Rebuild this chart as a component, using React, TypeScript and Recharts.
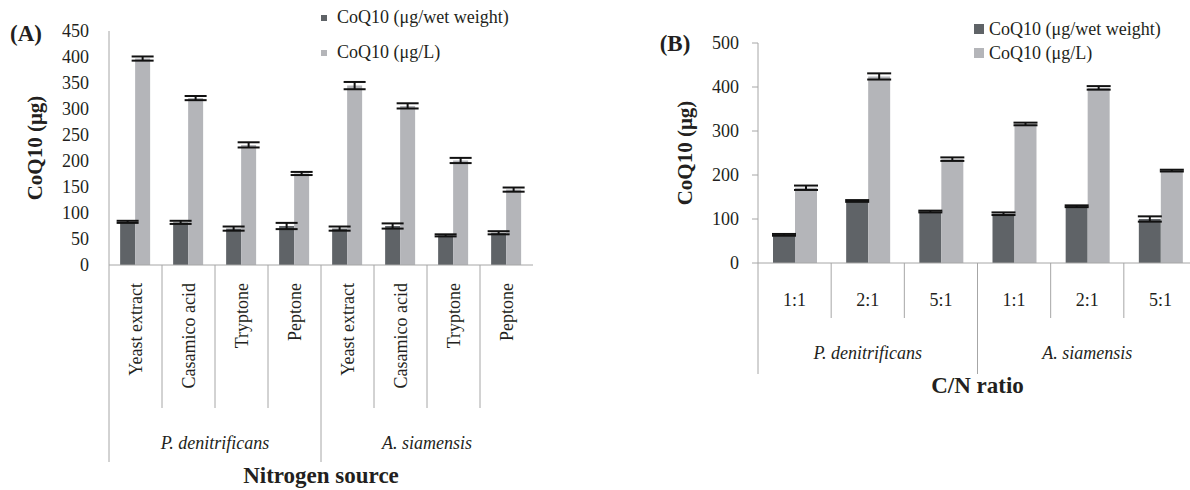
import React from 'react';
import { BarChart, Bar, XAxis, YAxis, ErrorBar, Legend, Label } from 'recharts';

// (A) nitrogen source
const nitrogenSources = ['Yeast extract', 'Casamico acid', 'Tryptone', 'Peptone', 'Yeast extract', 'Casamico acid', 'Tryptone', 'Peptone'];
const nitrogenStrains = ['P. denitrificans', 'P. denitrificans', 'P. denitrificans', 'P. denitrificans', 'A. siamensis', 'A. siamensis', 'A. siamensis', 'A. siamensis'];
const nWetWeight = [83, 82, 70, 75, 70, 75, 57, 62];
const nWetWeightErr = [2, 3, 4, 6, 4, 5, 2, 3];
const nPerLitre = [397, 321, 231, 176, 345, 306, 201, 145];
const nPerLitreErr = [4, 4, 5, 3, 7, 5, 5, 4];
const nTicks = [0, 50, 100, 150, 200, 250, 300, 350, 400, 450];

// (B) C/N ratio
const cnRatios = ['1:1', '2:1', '5:1', '1:1', '2:1', '5:1'];
const cnStrains = ['P. denitrificans', 'P. denitrificans', 'P. denitrificans', 'A. siamensis', 'A. siamensis', 'A. siamensis'];
const cnWetWeight = [64, 141, 117, 112, 129, 100];
const cnWetWeightErr = [2, 2, 2, 3, 2, 6];
const cnPerLitre = [171, 424, 236, 316, 398, 210];
const cnPerLitreErr = [5, 7, 4, 3, 4, 2];
const cnTicks = [0, 100, 200, 300, 400, 500];

const SERIES_WET = 'CoQ10 (μg/wet weight)';
const SERIES_L = 'CoQ10 (μg/L)';
const SERIES_ORDER = [SERIES_WET, SERIES_L];

const DARK = '#5f6367';
const LIGHT = '#b4b5b9';
const AXIS = '#a6a6a6';
const INK = '#231f20';
const FONT = '"Liberation Serif", "Times New Roman", serif';

const nitrogenData = nitrogenSources.map((s, i) => ({
  cat: s,
  group: nitrogenStrains[i],
  wet: nWetWeight[i],
  wetErr: nWetWeightErr[i],
  perL: nPerLitre[i],
  perLErr: nPerLitreErr[i],
}));

const cnData = cnRatios.map((r, i) => ({
  cat: r,
  group: cnStrains[i],
  wet: cnWetWeight[i],
  wetErr: cnWetWeightErr[i],
  perL: cnPerLitre[i],
  perLErr: cnPerLitreErr[i],
}));

// tick of the category axis: separator line at the left edge + label
const CategoryTick = (props: any) => {
  const { x, y, payload, lineLength, vertical, textOffset } = props;
  const half = payload?.offset ?? 0;
  const ty = y + textOffset;
  return (
    <g>
      <line x1={x - half} y1={y} x2={x - half} y2={y + lineLength} stroke={AXIS} strokeWidth={1} />
      {vertical ? (
        <text
          x={x}
          y={ty}
          transform={`rotate(-90 ${x} ${ty})`}
          textAnchor="end"
          dominantBaseline="central"
          fontFamily={FONT}
          fontSize={18}
          fill={INK}
        >
          {payload.value}
        </text>
      ) : (
        <text x={x} y={ty} textAnchor="middle" dominantBaseline="central" fontFamily={FONT} fontSize={18} fill={INK}>
          {payload.value}
        </text>
      )}
    </g>
  );
};

// tick of the strain axis: longer separator + italic name
const GroupTick = (props: any) => {
  const { x, y, payload, lineLength, textOffset } = props;
  const half = payload?.offset ?? 0;
  return (
    <g>
      <line x1={x - half} y1={y} x2={x - half} y2={y + lineLength} stroke={AXIS} strokeWidth={1} />
      <text
        x={x}
        y={y + textOffset}
        textAnchor="middle"
        dominantBaseline="central"
        fontFamily={FONT}
        fontStyle="italic"
        fontSize={18}
        fill={INK}
      >
        {payload.value}
      </text>
    </g>
  );
};

const makeLegend = (square: number, gap: number, rowHeight: number) => (props: any) => {
  const items = [...(props.payload || [])].sort(
    (a: any, b: any) => SERIES_ORDER.indexOf(a.value) - SERIES_ORDER.indexOf(b.value)
  );
  return (
    <div style={{ fontFamily: FONT, fontSize: 18, color: INK, whiteSpace: 'nowrap' }}>
      {items.map((p: any, i: number) => (
        <div key={i} style={{ display: 'flex', alignItems: 'center', height: rowHeight }}>
          <span style={{ display: 'inline-block', width: square, height: square, background: p.color, marginRight: gap }} />
          <span>{p.value}</span>
        </div>
      ))}
    </div>
  );
};

const NitrogenChart = () => (
  <BarChart
    width={590}
    height={490}
    data={nitrogenData}
    margin={{ top: 31, right: 57, bottom: 28, left: 0 }}
    barCategoryGap="21%"
    barGap={0}
  >
    <XAxis
      dataKey="cat"
      interval={0}
      height={143}
      tickSize={0}
      tickMargin={0}
      axisLine={{ stroke: AXIS }}
      tickLine={false}
      tick={<CategoryTick lineLength={143} vertical textOffset={18} />}
    />
    <XAxis
      xAxisId="group"
      dataKey="group"
      allowDuplicatedCategory={false}
      interval={0}
      height={54}
      tickSize={0}
      tickMargin={0}
      axisLine={false}
      tickLine={false}
      tick={<GroupTick lineLength={54} textOffset={35} />}
    >
      <Label
        content={(p: any) => (
          <text
            x={p.viewBox.x + p.viewBox.width / 2}
            y={p.viewBox.y + p.viewBox.height + 13}
            textAnchor="middle"
            dominantBaseline="central"
            fontFamily={FONT}
            fontWeight="bold"
            fontSize={23}
            fill={INK}
          >
            Nitrogen source
          </text>
        )}
      />
    </XAxis>
    <YAxis
      width={109}
      domain={[0, 450]}
      ticks={nTicks}
      interval={0}
      axisLine={{ stroke: AXIS }}
      tickLine={false}
      tickSize={6}
      tickMargin={14}
      tick={{ fontFamily: FONT, fontSize: 18, fill: INK }}
    >
      <Label
        content={(p: any) => (
          <text
            x={35}
            y={p.viewBox.y + p.viewBox.height / 2}
            transform={`rotate(-90 35 ${p.viewBox.y + p.viewBox.height / 2})`}
            textAnchor="middle"
            dominantBaseline="central"
            fontFamily={FONT}
            fontWeight="bold"
            fontSize={21}
            fill={INK}
          >
            CoQ10 (μg)
          </text>
        )}
      />
      <Label
        content={() => (
          <text x={26} y={33} textAnchor="middle" dominantBaseline="central" fontFamily={FONT} fontWeight="bold" fontSize={23} fill={INK}>
            (A)
          </text>
        )}
      />
    </YAxis>
    <Legend
      layout="vertical"
      align="center"
      verticalAlign="middle"
      wrapperStyle={{ left: 321, top: 0, width: 'auto' }}
      content={makeLegend(6, 10, 35)}
    />
    <Bar dataKey="wet" name={SERIES_WET} fill={DARK} isAnimationActive={false}>
      <ErrorBar dataKey="wetErr" direction="y" width={11} stroke="#111" strokeWidth={2} />
    </Bar>
    <Bar dataKey="perL" name={SERIES_L} fill={LIGHT} isAnimationActive={false}>
      <ErrorBar dataKey="perLErr" direction="y" width={11} stroke="#111" strokeWidth={2} />
    </Bar>
  </BarChart>
);

const RatioChart = () => (
  <BarChart
    width={600}
    height={490}
    data={cnData}
    margin={{ top: 43, right: 3, bottom: 116, left: 0 }}
    barCategoryGap="20.5%"
    barGap={0}
  >
    <XAxis
      dataKey="cat"
      interval={0}
      height={55}
      tickSize={0}
      tickMargin={0}
      axisLine={{ stroke: AXIS }}
      tickLine={false}
      tick={<CategoryTick lineLength={55} textOffset={37} />}
    />
    <XAxis
      xAxisId="group"
      dataKey="group"
      allowDuplicatedCategory={false}
      interval={0}
      height={56}
      tickSize={0}
      tickMargin={0}
      axisLine={false}
      tickLine={false}
      tick={<GroupTick lineLength={56} textOffset={35} />}
    >
      <Label
        content={(p: any) => (
          <text
            x={p.viewBox.x + p.viewBox.width / 2}
            y={p.viewBox.y + p.viewBox.height + 11}
            textAnchor="middle"
            dominantBaseline="central"
            fontFamily={FONT}
            fontWeight="bold"
            fontSize={23}
            fill={INK}
          >
            C/N ratio
          </text>
        )}
      />
    </XAxis>
    <YAxis
      width={158}
      domain={[0, 500]}
      ticks={cnTicks}
      interval={0}
      axisLine={{ stroke: AXIS }}
      tickLine={{ stroke: AXIS }}
      tickSize={6}
      tickMargin={13}
      tick={{ fontFamily: FONT, fontSize: 18, fill: INK }}
    >
      <Label
        content={(p: any) => (
          <text
            x={85}
            y={p.viewBox.y + p.viewBox.height / 2}
            transform={`rotate(-90 85 ${p.viewBox.y + p.viewBox.height / 2})`}
            textAnchor="middle"
            dominantBaseline="central"
            fontFamily={FONT}
            fontWeight="bold"
            fontSize={21}
            fill={INK}
          >
            CoQ10 (μg)
          </text>
        )}
      />
      <Label
        content={() => (
          <text x={75} y={43} textAnchor="middle" dominantBaseline="central" fontFamily={FONT} fontWeight="bold" fontSize={23} fill={INK}>
            (B)
          </text>
        )}
      />
    </YAxis>
    <Legend
      layout="vertical"
      align="center"
      verticalAlign="middle"
      wrapperStyle={{ left: 374, top: 17, width: 'auto' }}
      content={makeLegend(10, 5, 24)}
    />
    <Bar dataKey="wet" name={SERIES_WET} fill={DARK} isAnimationActive={false}>
      <ErrorBar dataKey="wetErr" direction="y" width={12} stroke="#111" strokeWidth={2} />
    </Bar>
    <Bar dataKey="perL" name={SERIES_L} fill={LIGHT} isAnimationActive={false}>
      <ErrorBar dataKey="perLErr" direction="y" width={12} stroke="#111" strokeWidth={2} />
    </Bar>
  </BarChart>
);

export default function App() {
  return (
    <div style={{ position: 'fixed', left: 0, top: 0, width: 1190, height: 490, overflow: 'hidden', background: '#fff' }}>
      <div style={{ position: 'absolute', left: 0, top: 0 }}>
        <NitrogenChart />
      </div>
      <div style={{ position: 'absolute', left: 600, top: 0 }}>
        <RatioChart />
      </div>
    </div>
  );
}
